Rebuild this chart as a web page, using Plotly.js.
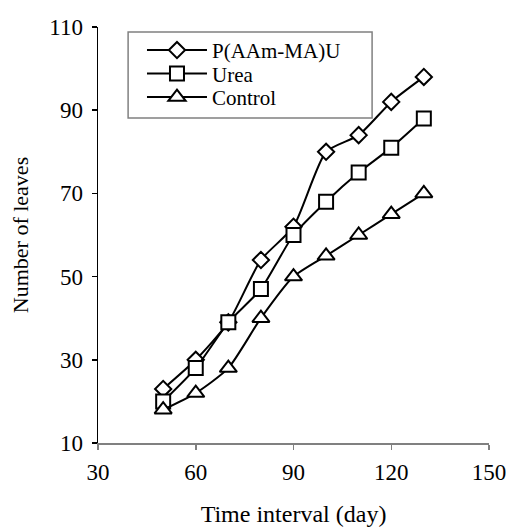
<!DOCTYPE html>
<html>
<head>
<meta charset="utf-8">
<script src="https://cdn.plot.ly/plotly-3.0.1.min.js"></script>
<style>html,body{margin:0;padding:0;background:#fff;}#chart{width:508px;height:527px;}</style>
</head>
<body>
<div id="chart"></div>
<script>
const days = [50, 60, 70, 80, 90, 100, 110, 120, 130];
const paamU = [23, 30, 39, 54, 62, 80, 84, 92, 98];
const urea = [20, 28, 39, 47, 60, 68, 75, 81, 88];
const control = [18, 22, 28, 40, 50, 55, 60, 65, 70];
const seriesNames = ['P(AAm-MA)U', 'Urea', 'Control'];
const xTicks = [30, 60, 90, 120, 150];
const yTicks = [10, 30, 50, 70, 90, 110];

const font = "'Liberation Serif', 'Times New Roman', serif";
function tr(y, name, symbol, size) {
  return {
    x: days, y: y, name: name, type: 'scatter', mode: 'lines+markers',
    line: {color: '#000', width: 2, shape: 'spline', smoothing: 0.6},
    marker: {symbol: symbol, size: size, color: '#fff', line: {color: '#000', width: 2}},
    cliponaxis: false
  };
}
const data = [
  tr(paamU, seriesNames[0], 'diamond', 12.5),
  tr(urea, seriesNames[1], 'square', 14),
  tr(control, seriesNames[2], 'triangle-up', 15)
];
const layout = {
  width: 508, height: 527,
  margin: {l: 98, r: 19, t: 27, b: 84},
  paper_bgcolor: '#fff', plot_bgcolor: '#fff',
  font: {family: font, color: '#000', size: 23},
  showlegend: true,
  legend: {
    x: 0.1125, y: 0.993, xanchor: 'left', yanchor: 'top',
    bgcolor: 'rgba(0,0,0,0)', borderwidth: 0,
    font: {family: font, size: 21, color: '#000'},
    itemwidth: 60, tracegroupgap: 0
  },
  shapes: [{
    type: 'rect', xref: 'paper', yref: 'paper', layer: 'below',
    x0: 0.077, x1: 0.701, y0: 0.781, y1: 0.988,
    line: {color: '#808080', width: 1.5}, fillcolor: '#fff'
  }],
  xaxis: {
    range: [30, 150], tickvals: xTicks, ticktext: xTicks.map(String),
    showgrid: false, zeroline: false, showline: true, linecolor: '#808080', linewidth: 1.5,
    ticks: 'outside', ticklen: 5, tickcolor: '#808080', tickwidth: 1.5,
    ticklabelstandoff: 3,
    tickfont: {family: font, size: 23},
    title: {text: 'Time interval (day)', font: {family: font, size: 24}, standoff: 22}
  },
  yaxis: {
    range: [10, 110], tickvals: yTicks, ticktext: yTicks.map(String),
    showgrid: false, zeroline: false, showline: true, linecolor: '#000', linewidth: 1.5,
    ticks: 'outside', ticklen: 5, tickcolor: '#000', tickwidth: 1.5,
    ticklabelstandoff: 4,
    tickfont: {family: font, size: 23},
    title: {text: 'Number of leaves', font: {family: font, size: 22}, standoff: 14}
  }
};
Plotly.newPlot('chart', data, layout, {displayModeBar: false, staticPlot: true}).then(function (gd) {
  // tighten legend row spacing to match the reference (rows ~23.5px apart)
  const items = gd.querySelectorAll('.legend .traces');
  if (!items.length) return;
  const m = /translate\(\s*([-\d.]+)[ ,]+([-\d.]+)\s*\)/.exec(items[0].getAttribute('transform') || '');
  if (!m) return;
  const x0 = parseFloat(m[1]), y0 = parseFloat(m[2]);
  items.forEach(function (el, i) {
    el.setAttribute('transform', 'translate(' + x0 + ',' + (y0 + i * 23.5) + ')');
  });
});
</script>
</body>
</html>
